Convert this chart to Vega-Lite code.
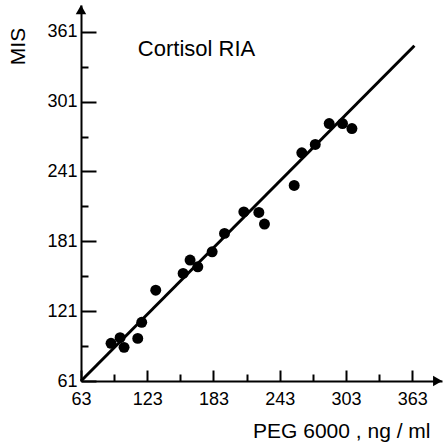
{
  "$schema": "https://vega.github.io/schema/vega-lite/v6.json",
  "width": 361,
  "height": 376,
  "autosize": "none",
  "padding": {"left": 81, "top": 5, "right": 1, "bottom": 66},
  "background": "white",
  "config": {"view": {"stroke": null}, "font": "Liberation Sans"},
  "datasets": {
    "pts": [
      {"peg": 90.2, "mis": 93.4},
      {"peg": 98.4, "mis": 98.2},
      {"peg": 102, "mis": 89.9},
      {"peg": 118, "mis": 111.4},
      {"peg": 114.4, "mis": 97.6},
      {"peg": 130.7, "mis": 139},
      {"peg": 155.5, "mis": 153.4},
      {"peg": 161.8, "mis": 164.9},
      {"peg": 168.8, "mis": 159.1},
      {"peg": 181.8, "mis": 172},
      {"peg": 193, "mis": 187.8},
      {"peg": 210.5, "mis": 206.3},
      {"peg": 224.1, "mis": 205.8},
      {"peg": 229.2, "mis": 195.8},
      {"peg": 256.1, "mis": 229},
      {"peg": 263, "mis": 257},
      {"peg": 275.2, "mis": 264.2},
      {"peg": 287.8, "mis": 282.2},
      {"peg": 299.9, "mis": 282.2},
      {"peg": 308.4, "mis": 277.9}
    ],
    "fit": [
      {"peg": 63, "mis": 61},
      {"peg": 365, "mis": 349}
    ],
    "arrows": [
      {"peg": 386, "mis": 61, "shape": "triangle-right"},
      {"peg": 63, "mis": 380, "shape": "triangle-up"}
    ],
    "label": [
      {"peg": 114.5, "mis": 346, "text": "Cortisol RIA"}
    ]
  },
  "resolve": {"axis": {"x": "independent", "y": "independent"}},
  "layer": [
    {
      "data": {"name": "fit"},
      "mark": {"type": "line", "color": "black", "strokeWidth": 3},
      "encoding": {
        "x": {
          "field": "peg", "type": "quantitative",
          "scale": {"domain": [63, 390], "nice": false, "zero": false},
          "axis": {
            "orient": "bottom",
            "values": [63, 123, 183, 243, 303, 363],
            "grid": false,
            "domainColor": "black",
            "domainWidth": 2,
            "tickColor": "black",
            "tickWidth": 2,
            "tickSize": -11,
            "labelFont": "Liberation Sans",
            "labelFontSize": 18,
            "labelColor": "black",
            "labelBaseline": "top",
            "labelPadding": 20,
            "labelFlush": false,
            "labelOverlap": false,
            "title": "PEG 6000 , ng / ml",
            "titleFont": "Liberation Sans",
            "titleFontSize": 21,
            "titleFontWeight": "normal",
            "titleColor": "black",
            "titleAlign": "right",
            "titleAnchor": null,
            "titleBaseline": "alphabetic",
            "titleX": 349,
            "titleY": 56
          }
        },
        "y": {
          "field": "mis", "type": "quantitative",
          "scale": {"domain": [61, 384], "nice": false, "zero": false},
          "axis": {
            "orient": "left",
            "values": [61, 121, 181, 241, 301, 361],
            "grid": false,
            "domainColor": "black",
            "domainWidth": 2,
            "tickColor": "black",
            "tickWidth": 2,
            "tickSize": -15,
            "labelFont": "Liberation Sans",
            "labelFontSize": 18,
            "labelColor": "black",
            "labelPadding": 19,
            "labelFlush": false,
            "labelOverlap": false,
            "title": "MIS",
            "titleFont": "Liberation Sans",
            "titleFontSize": 21,
            "titleFontWeight": "normal",
            "titleColor": "black",
            "titleAngle": -90,
            "titleAlign": "center",
            "titleAnchor": null,
            "titleBaseline": "middle",
            "titleX": -63,
            "titleY": 41
          }
        }
      }
    },
    {
      "data": {"name": "pts"},
      "mark": {"type": "point", "filled": true, "color": "black", "opacity": 1, "size": 120},
      "encoding": {
        "x": {
          "field": "peg", "type": "quantitative",
          "axis": {
            "orient": "bottom",
            "values": [93, 153, 213, 273, 333],
            "grid": false,
            "domain": false,
            "labels": false,
            "title": null,
            "tickColor": "black",
            "tickWidth": 2,
            "tickSize": -7
          }
        },
        "y": {
          "field": "mis", "type": "quantitative",
          "axis": {
            "orient": "left",
            "values": [91, 151, 211, 271, 331],
            "grid": false,
            "domain": false,
            "labels": false,
            "title": null,
            "tickColor": "black",
            "tickWidth": 2,
            "tickSize": -7
          }
        }
      }
    },
    {
      "data": {"name": "arrows"},
      "mark": {"type": "point", "filled": true, "color": "black", "opacity": 1, "size": 110},
      "encoding": {
        "x": {"field": "peg", "type": "quantitative", "axis": null},
        "y": {"field": "mis", "type": "quantitative", "axis": null},
        "shape": {"field": "shape", "type": "nominal", "scale": null, "legend": null}
      }
    },
    {
      "data": {"name": "label"},
      "mark": {"type": "text", "align": "left", "baseline": "middle", "font": "Liberation Sans", "fontSize": 22, "color": "black"},
      "encoding": {
        "x": {"field": "peg", "type": "quantitative", "axis": null},
        "y": {"field": "mis", "type": "quantitative", "axis": null},
        "text": {"field": "text"}
      }
    }
  ]
}
